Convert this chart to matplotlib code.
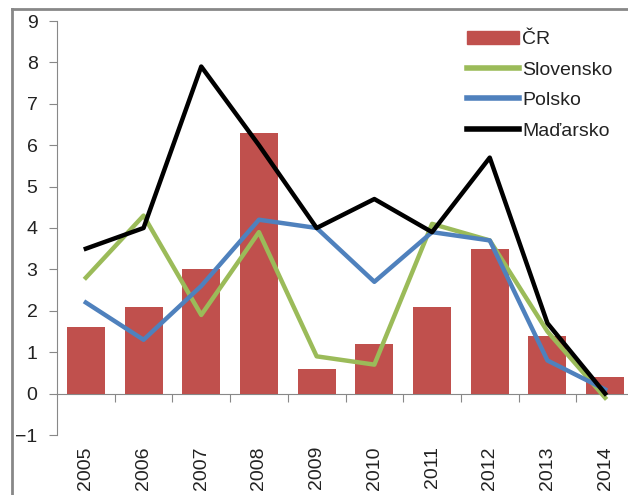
import numpy as np
import matplotlib.pyplot as plt
from matplotlib.lines import Line2D

plt.rcParams['font.family'] = ['Liberation Sans', 'DejaVu Sans']

years = ['2005', '2006', '2007', '2008', '2009', '2010', '2011', '2012', '2013', '2014']
cr = [1.6, 2.1, 3.0, 6.3, 0.6, 1.2, 2.1, 3.5, 1.4, 0.4]
slovensko = [2.8, 4.3, 1.9, 3.9, 0.9, 0.7, 4.1, 3.7, 1.5, -0.1]
polsko = [2.2, 1.3, 2.6, 4.2, 4.0, 2.7, 3.9, 3.7, 0.8, 0.1]
madarsko = [3.5, 4.0, 7.9, 6.0, 4.0, 4.7, 3.9, 5.7, 1.7, 0.0]

fig = plt.figure(figsize=(6.28, 4.95), dpi=100)
ax = fig.add_axes([57 / 628, 60 / 495, 577 / 628, 414 / 495])

x = np.arange(len(years))
ax.bar(x, cr, width=0.66, color='#C0504D', label='ČR', zorder=2)
ax.plot(x, slovensko, color='#9BBB59', lw=3.2, label='Slovensko', zorder=3)
ax.plot(x, polsko, color='#4F81BD', lw=3.2, label='Polsko', zorder=4)
ax.plot(x, madarsko, color='black', lw=3.2, label='Maďarsko', zorder=5)

ax.set_xlim(-0.5, len(years) - 0.5)
ax.set_ylim(-1, 9)
ax.set_yticks(range(-1, 10))
ax.tick_params(axis='y', direction='out', length=6, color='#888888',
               labelsize=14, pad=8, labelcolor='#222222')

# year labels below the plot, tick marks on the zero line
ax.set_xticks(x)
ax.set_xticklabels(years, rotation=90, fontsize=14, color='#222222')
ax.tick_params(axis='x', length=0, pad=8)
for s in ['top', 'right', 'bottom']:
    ax.spines[s].set_visible(False)
ax.spines['left'].set_color('#888888')

sec = ax.secondary_xaxis(0.1)
sec.set_xticks(np.arange(0.5, len(years) - 0.5, 1.0))
sec.set_xticklabels([])
sec.tick_params(direction='out', length=6, color='#888888')
sec.spines['bottom'].set_color('#888888')

handles = [
    plt.Rectangle((0, 0), 1, 1, color='#C0504D'),
    Line2D([], [], color='#9BBB59', lw=4),
    Line2D([], [], color='#4F81BD', lw=4),
    Line2D([], [], color='black', lw=4),
]
leg = ax.legend(handles, ['ČR', 'Slovensko', 'Polsko', 'Maďarsko'],
                loc='upper left', bbox_to_anchor=(0.69, 1.005), frameon=False,
                fontsize=14, handlelength=2.7, handletextpad=0.15,
                labelspacing=0.66, borderaxespad=0.2)
for t in leg.get_texts():
    t.set_color('#222222')

# outer frame of the cropped chart
fig.add_artist(Line2D([12 / 628, 1.0], [1 - 9 / 495, 1 - 9 / 495],
                      color='#888888', lw=2, transform=fig.transFigure))
fig.add_artist(Line2D([12 / 628, 12 / 628], [0, 1 - 9 / 495],
                      color='#888888', lw=2, transform=fig.transFigure))

fig.savefig('out.png', dpi=100)
